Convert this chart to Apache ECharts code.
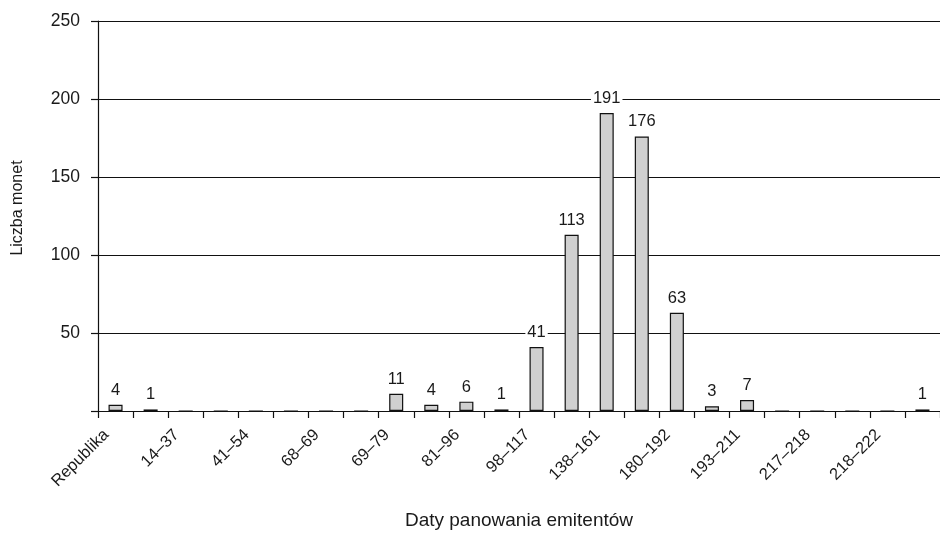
<!DOCTYPE html>
<html>
<head>
<meta charset="utf-8">
<script src="https://cdn.jsdelivr.net/npm/echarts@6/dist/echarts.min.js"></script>
<style>html,body{margin:0;padding:0;background:#fff}#c{width:940px;height:535px}</style>
</head>
<body>
<div id="c"></div>
<script>
const categories = ['Republika','27 p.n.e.–14','14–37','37–41','41–54','54–68','68–69','69','69–79','79–81','81–96','96–98','98–117','117–138','138–161','161–180','180–192','193','193–211','211–217','217–218','218','218–222','222–235'];
const counts = [4,1,0,0,0,0,0,0,11,4,6,1,41,113,191,176,63,3,7,0,0,0,0,1];
const yTicks = [0,50,100,150,200,250];

const font = "'Liberation Sans', Arial, sans-serif";
const txt = '#1a1a1a';
const chart = echarts.init(document.getElementById('c'), null, {renderer:'canvas'});
chart.setOption({
  animation:false,
  backgroundColor:'#fff',
  grid:{left:98, right:-2, top:21, bottom:123, containLabel:false},
  xAxis:{
    type:'category',
    data:categories,
    boundaryGap:true,
    name:'Daty panowania emitentów',
    nameLocation:'middle',
    nameGap:100,
    nameTextStyle:{fontFamily:font, fontSize:19, color:txt},
    axisLine:{lineStyle:{color:'#111', width:1.2}},
    axisTick:{show:true, interval:0, length:7, lineStyle:{color:'#111', width:1.2}},
    axisLabel:{interval:1, rotate:45, margin:12, padding:[0,13,0,0], fontFamily:font, fontSize:16.5, color:txt},
    splitLine:{show:false}
  },
  yAxis:{
    type:'value',
    min:yTicks[0], max:yTicks[yTicks.length-1], interval:50,
    name:'Liczba monet',
    nameLocation:'middle',
    nameGap:72,
    nameTextStyle:{fontFamily:font, fontSize:16, color:txt, padding:[0,0,0,16]},
    axisLine:{show:true, lineStyle:{color:'#111', width:1.2}},
    axisTick:{show:true, length:7, lineStyle:{color:'#111', width:1.2}},
    axisLabel:{margin:18, fontFamily:font, fontSize:17.5, color:txt, formatter:v => v===0 ? '' : String(v)},
    splitLine:{show:true, lineStyle:{color:'#111', width:1}}
  },
  series:[{
    type:'bar',
    data:counts,
    barWidth:'40%',
    itemStyle:{color:'#d0d0d0', borderColor:'#111', borderWidth:1.2},
    label:{
      show:true, position:'top', distance:6,
      fontFamily:font, fontSize:16.5, color:txt,
      backgroundColor:'#fff', padding:[0,2],
      formatter:p => p.value ? String(p.value) : ''
    }
  }]
});
</script>
</body>
</html>
